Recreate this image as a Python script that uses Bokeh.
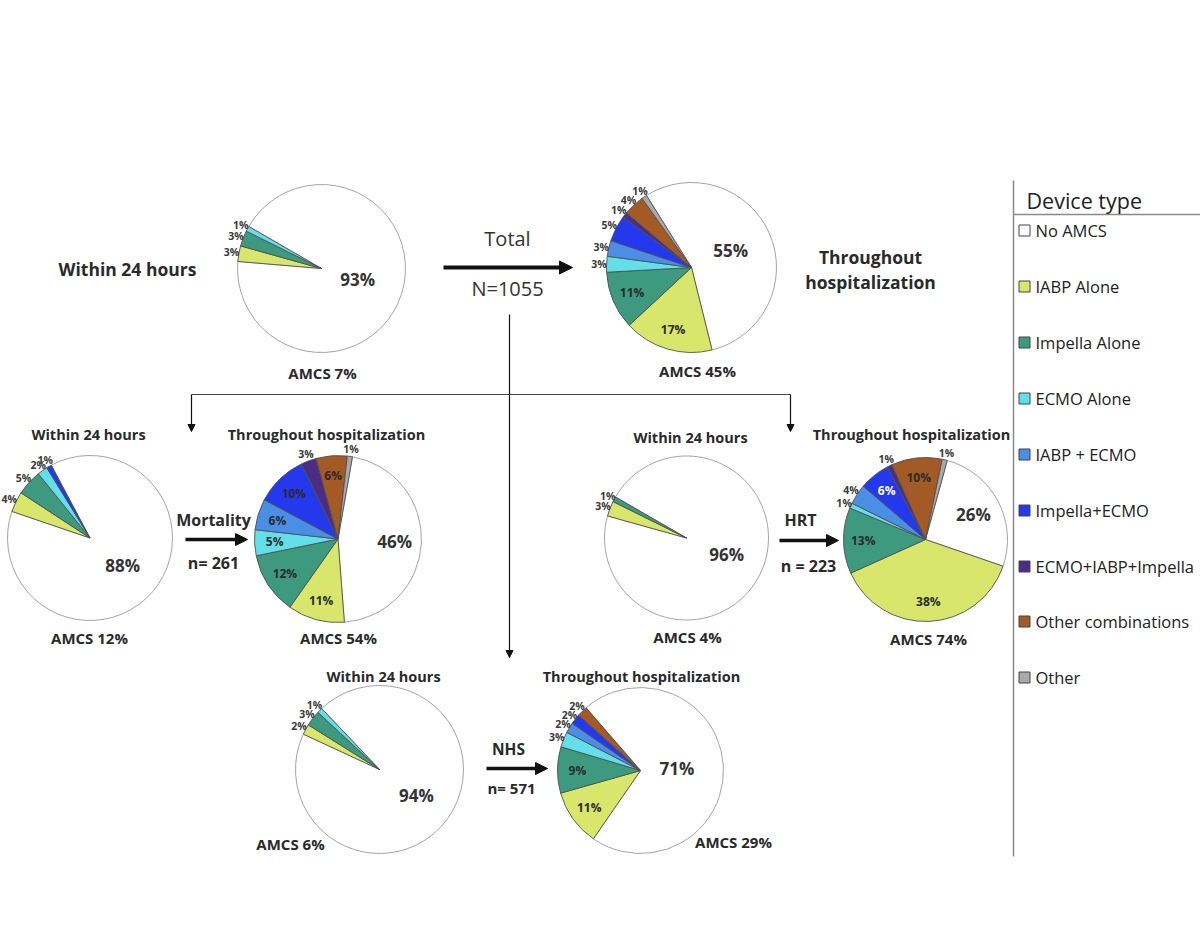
import math
from bokeh.plotting import figure
from bokeh.models import ColumnDataSource, Range1d, Arrow, NormalHead
from bokeh.core.properties import value
from bokeh.embed import file_html
from bokeh.resources import INLINE

# ---------------- data ----------------
categories = ["No AMCS", "IABP Alone", "Impella Alone", "ECMO Alone", "IABP + ECMO",
              "Impella+ECMO", "ECMO+IABP+Impella", "Other combinations", "Other"]
colors = ["#ffffff", "#d8e66c", "#3e9a7e", "#63dfea", "#4a8ee6",
          "#2438ee", "#4b2d86", "#a45a24", "#a9a9a9"]

total_24h = [93, 3, 3, 1, 0, 0, 0, 0, 0]
total_hosp = [55, 17, 11, 3, 3, 5, 1, 4, 1]
mort_24h = [88, 4, 5, 2, 0, 1, 0, 0, 0]
mort_hosp = [46, 11, 12, 5, 6, 10, 3, 6, 1]
hrt_24h = [96, 3, 1, 0, 0, 0, 0, 0, 0]
hrt_hosp = [26, 38, 13, 1, 4, 6, 1, 10, 1]
nhs_24h = [94, 2, 3, 1, 0, 0, 0, 0, 0]
nhs_hosp = [71, 11, 9, 3, 2, 2, 0, 2, 0]

group_names = ["Total", "Mortality", "HRT", "NHS"]
group_counts = ["N=1055", "n= 261", "n = 223", "n= 571"]
period_24h = "Within 24 hours"
period_hosp = "Throughout hospitalization"
legend_title = "Device type"

# ---------------- layout ----------------
W, H = 1200, 946


def Y(y):
    return H - y


FONT = value("Open Sans")

p = figure(width=W, height=H, x_range=Range1d(0, W), y_range=Range1d(0, H),
           output_backend="svg", toolbar_location=None, min_border=0,
           x_axis_location=None, y_axis_location=None)
p.xgrid.visible = False
p.ygrid.visible = False
p.outline_line_color = None
p.background_fill_color = "white"

# pie: values, cx, cy(img), radius, start angle (deg), big-label radial fraction, inside threshold
pies = [
    (total_24h, 321, 268, 84, 150, 0.45, 101),
    (total_hosp, 691, 267, 85, 122, 0.50, 6),
    (mort_24h, 89.5, 537.5, 82.5, 118, 0.52, 101),
    (mort_hosp, 337.5, 538.5, 83.5, 80, 0.68, 5),
    (hrt_24h, 686, 537.5, 82, 150, 0.53, 101),
    (hrt_hosp, 925, 539, 82, 74.6, 0.66, 6),
    (nhs_24h, 379, 769, 84, 133.5, 0.54, 101),
    (nhs_hosp, 640, 770, 83, 131, 0.44, 9),
]

w = dict(x=[], y=[], r=[], s=[], e=[], fill=[], line=[])
big = dict(x=[], y=[], t=[])
ins = dict(x=[], y=[], t=[], c=[])
out = dict(x=[], y=[], t=[])

for vals, cx, cy, R, start_deg, bigf, thr in pies:
    a0 = math.radians(start_deg)
    cum = 0.0
    for i, v in enumerate(vals):
        if v <= 0:
            continue
        end = a0 - cum * 2 * math.pi / 100.0
        st = a0 - (cum + v) * 2 * math.pi / 100.0
        cum += v
        w["x"].append(cx); w["y"].append(Y(cy)); w["r"].append(R)
        w["s"].append(st); w["e"].append(end)
        w["fill"].append(colors[i])
        w["line"].append("#9a9a9a" if i == 0 else "#505050")
        mid = (st + end) / 2.0
        label = f"{v}%"
        if i == 0:
            big["x"].append(cx + bigf * R * math.cos(mid))
            big["y"].append(Y(cy) + bigf * R * math.sin(mid))
            big["t"].append(label)
        elif v >= thr:
            ins["x"].append(cx + 0.76 * R * math.cos(mid))
            ins["y"].append(Y(cy) + 0.76 * R * math.sin(mid))
            ins["t"].append(label)
            ins["c"].append("#ffffff" if i == 5 and vals is hrt_hosp else "#2a2a2a")
        else:
            out["x"].append(cx + 1.09 * R * math.cos(mid))
            out["y"].append(Y(cy) + 1.09 * R * math.sin(mid))
            out["t"].append(label)

p.wedge(x="x", y="y", radius="r", start_angle="s", end_angle="e",
        fill_color="fill", line_color="line", line_width=0.9, source=ColumnDataSource(w))

p.text(x="x", y="y", text="t", source=ColumnDataSource(big), text_font=FONT,
       text_font_style="bold", text_font_size="17px", text_color="#333333",
       text_align="center", text_baseline="middle")
p.text(x="x", y="y", text="t", text_color="c", source=ColumnDataSource(ins), text_font=FONT,
       text_font_style="bold", text_font_size="12px",
       text_align="center", text_baseline="middle")
p.text(x="x", y="y", text="t", source=ColumnDataSource(out), text_font=FONT,
       text_font_style="bold", text_font_size="10.5px", text_color="#3a3a3a",
       text_align="center", text_baseline="middle")

# AMCS labels under each pie
amcs_pos = [(322, 372), (697, 370), (89, 637), (338, 637), (687, 636), (928, 638), (290, 843), (733, 841)]
amcs = dict(x=[], y=[], t=[])
for (vals, *_), (ax, ay) in zip(pies, amcs_pos):
    amcs["x"].append(ax); amcs["y"].append(Y(ay)); amcs["t"].append(f"AMCS {100 - vals[0]}%")
p.text(x="x", y="y", text="t", source=ColumnDataSource(amcs), text_font=FONT,
       text_font_style="bold", text_font_size="15px", text_color="#2a2a2a",
       text_align="center", text_baseline="middle")


def txt(x, y, t, size, bold=True, color="#2a2a2a", align="center"):
    p.text(x=[x], y=[Y(y)], text=[t], text_font=FONT,
           text_font_style="bold" if bold else "normal", text_font_size=size,
           text_color=color, text_align=align, text_baseline="middle")


# period titles
txt(127, 268, period_24h, "17.5px")
txt(870, 256, period_hosp.split(" ")[0], "17.5px")
txt(870, 281, period_hosp.split(" ")[1], "17.5px")
txt(88, 434, period_24h, "14.5px")
txt(326, 434, period_hosp, "14.5px")
txt(690, 437, period_24h, "14.5px")
txt(911, 434, period_hosp, "14.5px")
txt(383, 676, period_24h, "14.5px")
txt(641, 676, period_hosp, "14.5px")

# group names / counts
txt(507, 238, group_names[0], "20px", bold=False, color="#333333")
txt(507, 288, group_counts[0], "20px", bold=False, color="#333333")
txt(213, 519, group_names[1], "16px")
txt(213, 562, group_counts[1], "16px")
txt(800, 519, group_names[2], "16px")
txt(808, 565, group_counts[2], "16px")
txt(508, 748, group_names[3], "15.5px")
txt(511, 787, group_counts[3], "15px")


def arrow(x0, y0, x1, y1, lw, size):
    p.add_layout(Arrow(end=NormalHead(size=size, fill_color="#111111", line_color="#111111"),
                       x_start=x0, y_start=Y(y0), x_end=x1, y_end=Y(y1),
                       line_width=lw, line_color="#111111"))


# thick arrows
arrow(443, 267, 572, 267, 4, 13)
arrow(185, 539, 247, 539, 3.5, 12)
arrow(779, 540, 838, 540, 3.5, 12)
arrow(486, 768, 547, 768, 3.5, 12)

# thin connector lines
p.line([191, 790], [Y(394), Y(394)], line_color="#444444", line_width=1.2)
arrow(509, 314, 509, 657, 1.2, 7)
arrow(191, 394, 191, 431, 1.2, 7)
arrow(790, 394, 790, 431, 1.2, 7)

# legend
p.line([1013, 1013], [Y(180), Y(856)], line_color="#8a8a8a", line_width=1.5)
p.line([1013, W], [Y(214), Y(214)], line_color="#8a8a8a", line_width=1.5)
txt(1026, 200, legend_title, "21.5px", bold=False, color="#222222", align="left")
leg_y = [230, 286, 342, 398, 454, 510, 566, 621, 677]
p.rect(x=[1024] * len(categories), y=[Y(v) for v in leg_y], width=11, height=11,
       fill_color=colors, line_color="#444444", line_width=1)
p.text(x=[1035] * len(categories), y=[Y(v) for v in leg_y], text=categories, text_font=FONT,
       text_font_size="16.5px", text_color="#222222", text_align="left", text_baseline="middle")

open("out.html", "w").write(file_html(p, INLINE))
